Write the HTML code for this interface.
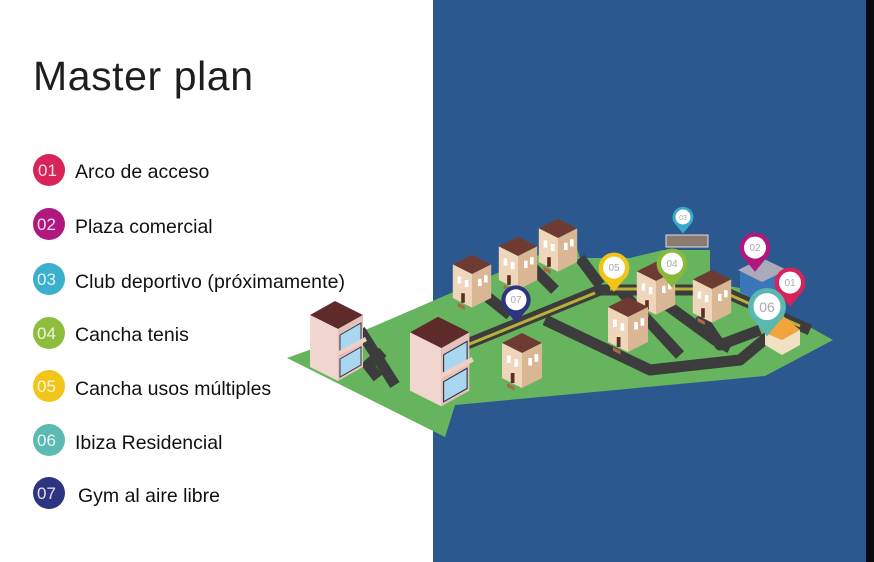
<!DOCTYPE html>
<html><head><meta charset="utf-8"><style>
html,body{margin:0;padding:0;width:874px;height:562px;overflow:hidden;background:#fff;font-family:"Liberation Sans",sans-serif}
</style></head><body>
<svg width="874" height="562" viewBox="0 0 874 562" xmlns="http://www.w3.org/2000/svg">
<defs>
<g id="house">
 <polygon points="-16,-28 0,-36 16,-28 0,-20" fill="#6e3b32"/>
 <polygon points="-16,-28 0,-20 0,8 -16,0" fill="#efd6bb"/>
 <polygon points="0,-20 16,-28 16,0 0,8" fill="#d9b795"/>
 <rect x="-12" y="-18" width="3" height="6" fill="#fff"/><rect x="-6" y="-15" width="3" height="6" fill="#fff"/>
 <rect x="-9" y="-4" width="3" height="8" fill="#5a3020"/>
 <rect x="5" y="-16" width="3" height="6" fill="#fff"/><rect x="10" y="-19" width="3" height="6" fill="#fff"/>
 <polygon points="-12,4 -6,7 -6,10 -12,7" fill="#b0664a"/>
</g>
<g id="apt">
 <polygon points="-25,-30 0,-44 28,-30 3,-16" fill="#5e2a2a"/>
 <polygon points="-25,-30 3,-16 3,36 -25,22" fill="#f1d5cf"/>
 <polygon points="3,-16 28,-30 28,22 3,36" fill="#e4c2bb"/>
 <polygon points="5,-10 26,-22 26,-2 5,10" fill="#a9d7f0" stroke="#334" stroke-width="1"/>
 <polygon points="5,14 26,2 26,20 5,32" fill="#a9d7f0" stroke="#334" stroke-width="1"/>
 <polygon points="0,8 30,-8 32,-4 2,12" fill="#f0cfc7"/>
</g>
<g id="pin">
 <path d="M0,18 L-9,7 A14,14 0 1 1 9,7 Z"/>
 <circle cx="0" cy="-4" r="10" fill="#fff"/>
</g>
</defs>
<rect x="433" y="0" width="433" height="562" fill="#2c5890"/>
<rect x="866" y="0" width="8" height="562" fill="#0a0a14"/>

<text x="33" y="90" font-size="41" fill="#1e1e1e" textLength="220">Master plan</text>
<g font-size="19.5" fill="#111">
 <circle cx="49" cy="170" r="16" fill="#d9245a"/><text x="75" y="178">Arco de acceso</text>
 <circle cx="49" cy="224" r="16" fill="#b0177f"/><text x="75" y="233">Plaza comercial</text>
 <circle cx="49" cy="279" r="16" fill="#3bb0cc"/><text x="75" y="288" textLength="270">Club deportivo (próximamente)</text>
 <circle cx="49" cy="333" r="16" fill="#8ebc3c"/><text x="75" y="341">Cancha tenis</text>
 <circle cx="49" cy="386" r="16" fill="#f2c619"/><text x="75" y="395">Cancha usos múltiples</text>
 <circle cx="49" cy="440" r="16" fill="#5cbab3"/><text x="75" y="449">Ibiza Residencial</text>
 <circle cx="49" cy="493" r="16" fill="#2e3580"/><text x="78" y="502">Gym al aire libre</text>
</g>
<g font-size="17" fill="#fff" fill-opacity="0.85">
 <text x="38" y="176">01</text><text x="37" y="230">02</text><text x="37" y="285">03</text><text x="37" y="339">04</text><text x="37" y="392">05</text><text x="37" y="446">06</text><text x="37" y="499">07</text>
</g>

<polygon points="287,358 370,328 567,243 575,243 580,258 630,258 663,250 710,250 710,283 740,288 833,340 765,376 455,405 445,437" fill="#66b55e"/>
<rect x="666" y="235" width="42" height="12" fill="#8a7a70" stroke="#ddd" stroke-width="1"/>
<g stroke="#3c3c3c" stroke-width="11" fill="none" stroke-linejoin="round">
 <path d="M360,330 L395,385"/><path d="M383,352 L368,365 L378,378"/>
 <path d="M440,355 L600,290 L720,290 L810,330"/>
 <path d="M485,295 L510,315"/><path d="M530,265 L555,290"/><path d="M580,258 L600,285"/>
 <path d="M545,320 L650,370 L740,360 L770,335"/>
 <path d="M620,290 L680,355"/><path d="M660,300 L715,340 L730,348"/>
 <path d="M700,315 L720,345 L760,330"/>
</g>
<g stroke="#b7b03a" stroke-width="3" fill="none">
 <path d="M450,352 L595,293"/><path d="M610,289 L715,289"/><path d="M730,295 L800,326"/>
</g>
<g transform="translate(472,298) scale(1.2)"><use href="#house"/></g>
<g transform="translate(518,280) scale(1.2)"><use href="#house"/></g>
<g transform="translate(558,262) scale(1.2)"><use href="#house"/></g>
<g transform="translate(656,305) scale(1.2)"><use href="#house"/></g>
<g transform="translate(712,313) scale(1.2)"><use href="#house"/></g>
<g transform="translate(628,342) scale(1.25)"><use href="#house"/></g>
<g transform="translate(522,378) scale(1.25)"><use href="#house"/></g>
<use href="#apt" x="335" y="345"/>
<g transform="translate(438,366) scale(1.12)"><use href="#apt"/></g>
<polygon points="740,272 762,260 785,272 785,292 762,304 740,292" fill="#3a76b8"/>
<polygon points="738,270 762,258 787,270 762,282" fill="#aab"/>
<polygon points="765,330 782,318 800,330 800,345 782,355 765,345" fill="#f0e0c4"/>
<polygon points="763,332 782,315 800,330 782,340" fill="#f0a43a"/>

<g transform="translate(683,220) scale(0.75)"><use href="#pin" fill="#3aa9c9"/></g>
<g transform="translate(755,252) scale(1.1)"><use href="#pin" fill="#b0177f"/></g>
<g transform="translate(790,287) scale(1.1)"><use href="#pin" fill="#d6245a"/></g>
<g transform="translate(672,268) scale(1.1)"><use href="#pin" fill="#8ab83a"/></g>
<g transform="translate(614,272) scale(1.1)"><use href="#pin" fill="#f0c419"/></g>
<g transform="translate(516,304) scale(1.05)"><use href="#pin" fill="#2e3580"/></g>
<g transform="translate(767,312) scale(1.35)"><use href="#pin" fill="#5bb8b0"/></g>
<g font-size="10" fill="#aaa" text-anchor="middle">
 <text x="683" y="220" font-size="7">03</text><text x="755" y="251">02</text><text x="790" y="286">01</text>
 <text x="672" y="267">04</text><text x="614" y="271">05</text><text x="516" y="303">07</text><text x="767" y="312" font-size="14">06</text>
</g>
</svg>
</body></html>
